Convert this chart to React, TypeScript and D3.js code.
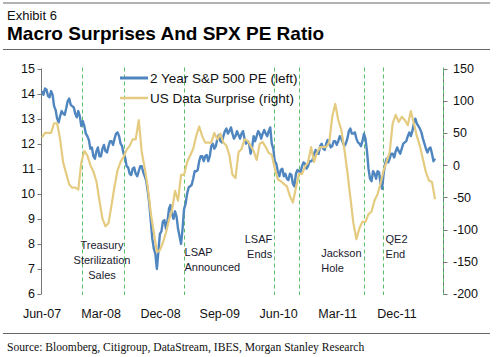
import React from "react";
import * as d3 from "d3";

// ---- Data ----
// PE: weekly observations starting 1 Jun 2007
const START_DATE = "2007-06-01";
const PE_STEP_DAYS = 7;
const SURPRISE_STEP_DAYS = 14;

const peValues: number[] = [
  14.1, 13.95, 14.2, 14.15, 13.9, 13.85, 14.1, 13.95, 13.5, 13.35,
  13.0, 12.85, 13.1, 13.3, 13.2, 13.15, 13.4, 13.7, 13.8, 13.55,
  13.5, 13.45, 13.2, 13.05, 13.3, 13.1, 12.7, 12.9, 12.7, 12.4,
  12.3, 12.15, 11.8, 11.85, 11.5, 11.4, 11.7, 11.85, 11.5, 11.5,
  11.8, 11.95, 11.7, 11.65, 11.9, 12.1, 12.1, 11.95, 12.2, 12.4,
  12.45, 12.3, 12.0, 11.9, 11.6, 11.45, 11.1, 11.05, 10.8, 10.75,
  11.0, 11.05, 10.8, 10.7, 10.9, 11.1, 11.1, 10.85, 10.7, 10.5,
  10.1, 9.6, 8.9, 8.2, 7.8, 7.6, 7.0, 7.7, 8.4, 8.5,
  8.9, 8.95, 8.6, 8.9, 9.4, 9.55, 9.2, 9.0, 9.3, 9.1,
  8.6, 8.3, 8.0, 8.6, 9.4, 9.6, 10.0, 10.25, 10.3, 10.35,
  10.6, 10.9, 10.9, 10.95, 11.3, 11.5, 11.5, 11.3, 11.5, 11.55,
  11.3, 11.5, 11.9, 12.0, 11.8, 11.9, 12.2, 12.35, 12.1, 12.05,
  12.3, 12.5, 12.6, 12.4, 12.5, 12.65, 12.4, 12.2, 12.3, 12.5,
  12.35, 12.2, 12.4, 12.5, 12.2, 12.0, 12.1, 12.0, 11.6, 11.85,
  12.3, 12.1, 12.3, 12.5, 12.4, 12.2, 12.4, 12.55, 12.4, 12.3,
  12.5, 12.65, 12.0, 11.8, 11.3, 11.2, 10.9, 10.7, 10.95, 11.0,
  10.7, 10.8, 10.6, 10.55, 10.8, 10.75, 10.4, 10.3, 10.8, 10.95,
  10.9, 10.85, 11.1, 11.25, 11.2, 11.0, 11.1, 11.3, 11.3, 11.35,
  11.6, 11.75, 11.6, 11.6, 11.9, 12.0, 11.8, 11.75, 12.0, 12.15,
  12.0, 11.85, 11.9, 12.1, 12.1, 11.95, 12.1, 12.3, 12.2, 12.05,
  11.9, 12.0, 12.2, 12.5, 12.6, 12.4, 12.4, 12.45, 12.2, 12.05,
  12.0, 11.9, 12.1, 12.4, 12.2, 11.7, 11.0, 10.6, 10.5, 10.9,
  10.8, 10.6, 10.9, 10.85, 10.4, 10.2, 10.8, 11.2, 11.4, 11.25,
  11.4, 11.6, 11.6, 11.45, 11.7, 11.85, 11.7, 11.6, 11.8, 12.0,
  12.05, 12.1, 12.3, 12.45, 12.3, 12.5, 12.8, 13.0, 12.8, 12.7,
  12.6, 12.45, 12.2, 12.0, 11.8, 11.65, 11.8, 11.85, 11.6, 11.3,
  11.4,
];

// US data surprise: bi-weekly observations starting 1 Jun 2007
const surpriseValues: number[] = [
  43, 50, 50, 50, 65, 65, 40, 4, -13, -30,
  -35, -35, -38, 4, 22, 15, 0, -10, -25, -55,
  -83, -95, -90, -62, -33, -8, 5, 13, 24, 30,
  40, 40, 70, 20, -5, -35, -75, -105, -135, -132,
  -120, -105, -85, -70, -40, -55, -15, -15, 5, 15,
  25, 45, 60, 45, 35, 35, 35, 50, 40, 49,
  35, 30, 15, -15, -20, 20, 25, 40, 38, 30,
  22, 8, 33, 36, 28, 19, 16, -5, -22, -25,
  -29, -33, -48, -58, -35, -13, -14, -2, 4, 28,
  5, 20, 28, 28, 28, 35, 75, 95, 70, 55,
  25, -10, -50, -90, -115, -98, -88, -88, -76, -72,
  -55, -45, -28, -8, 6, 20, 65, 78, 67, 75,
  70, 62, 84, 65, 45, 30, 9, -11, -24, -26,
  -53,
];

const xTickLabels = ["Jun-07", "Mar-08", "Dec-08", "Sep-09", "Jun-10", "Mar-11", "Dec-11"];
const xTickDates = ["2007-06-01", "2008-03-01", "2008-12-01", "2009-09-01", "2010-06-01", "2011-03-01", "2011-12-01"];
const leftTicks = [6, 7, 8, 9, 10, 11, 12, 13, 14, 15];
const rightTicks = [-200, -150, -100, -50, 0, 50, 100, 150];

const eventDates = ["2007-12-03", "2008-06-15", "2009-03-20", "2010-05-11", "2010-09-03", "2011-07-01", "2011-09-27", "2012-07-01"];

const annotations: { lines: string[]; date: string; anchor: string; top: number }[] = [
  { lines: ["Treasury", "Sterilization", "Sales"], date: "2008-03-05", anchor: "middle", top: 249 },
  { lines: ["LSAP", "Announced"], date: "2009-03-22", anchor: "start", top: 256 },
  { lines: ["LSAF", "Ends"], date: "2010-05-02", anchor: "end", top: 243 },
  { lines: ["Jackson", "Hole"], date: "2010-12-15", anchor: "start", top: 256.5 },
  { lines: ["QE2", "End"], date: "2011-10-09", anchor: "start", top: 242.5 },
];

const legendItems = ["2 Year S&P 500 PE (left)", "US Data Surprise (right)"];

const BLUE = "#4f86bf";
const GOLD = "#e4cb80";
const GREEN = "#5cbf6a";

export default function App() {
  const W = 500, H = 357;
  const left = 42, right = 443, top = 68.5, bottom = 294;
  const parse = d3.timeParse("%Y-%m-%d");
  const start = parse(START_DATE)!;
  const x = d3.scaleTime().domain([start, parse("2012-07-01")!]).range([left, right]);
  const yL = d3.scaleLinear().domain([6, 15]).range([bottom, top]);
  const yR = d3.scaleLinear().domain([-200, 150]).range([bottom, top]);

  const peData = peValues.map((v, i) => ({ d: d3.timeDay.offset(start, i * PE_STEP_DAYS), v }));
  const suData = surpriseValues.map((v, i) => ({ d: d3.timeDay.offset(start, i * SURPRISE_STEP_DAYS), v }));

  const peLine = d3.line<{ d: Date; v: number }>().x((p) => x(p.d)).y((p) => yL(p.v));
  const suLine = d3.line<{ d: Date; v: number }>().x((p) => x(p.d)).y((p) => yR(p.v));

  const font = "Arial, 'Liberation Sans', sans-serif";

  return (
    <svg width={W} height={H} style={{ display: "block", position: "absolute", left: 0, top: 0, background: "#fff" }} fontFamily={font}>
      <rect x={0} y={0} width={W} height={H} fill="#fff" />
      {/* header */}
      <line x1={3} x2={490} y1={3} y2={3} stroke="#666" strokeWidth={1.2} />
      <text x={7} y={19.5} fontSize={13} fill="#111">Exhibit 6</text>
      <text x={7} y={40} fontSize={19} fontWeight="bold" fill="#000">Macro Surprises And SPX PE Ratio</text>
      <line x1={3} x2={490} y1={49.5} y2={49.5} stroke="#666" strokeWidth={1.2} />

      {/* event lines */}
      {eventDates.map((ds, i) => {
        const xx = Math.round(x(parse(ds)!)) + 0.5;
        return <line key={"ev" + i} x1={xx} x2={xx} y1={top - 1} y2={bottom + 1} stroke={GREEN} strokeWidth={1} strokeDasharray="4,3" />;
      })}

      {/* left axis */}
      <line x1={left - 0.5} x2={left - 0.5} y1={yL(15)} y2={yL(6)} stroke="#777" strokeWidth={1} />
      {leftTicks.map((t) => (
        <g key={"l" + t}>
          <line x1={left - 4.5} x2={left - 0.5} y1={Math.round(yL(t)) + 0.5} y2={Math.round(yL(t)) + 0.5} stroke="#777" />
          <text x={35} y={yL(t)} dy="0.35em" textAnchor="end" fontSize={12.5} fill="#111">{t}</text>
        </g>
      ))}

      {/* right axis */}
      <line x1={right + 0.5} x2={right + 0.5} y1={yR(150)} y2={yR(-200)} stroke="#777" strokeWidth={1} />
      <line x1={right + 0.5} x2={right + 0.5} y1={yR(150)} y2={yR(-200)} stroke={GREEN} strokeWidth={1} strokeDasharray="4,3" />
      {rightTicks.map((t) => (
        <g key={"r" + t}>
          <line x1={right + 0.5} x2={right + 4.5} y1={Math.round(yR(t)) + 0.5} y2={Math.round(yR(t)) + 0.5} stroke="#777" />
          <text x={453} y={yR(t)} dy="0.35em" textAnchor="start" fontSize={12.5} fill="#111">{t}</text>
        </g>
      ))}

      {/* x labels */}
      {xTickLabels.map((lab, i) => (
        <text key={lab} x={x(parse(xTickDates[i])!)} y={317.5} textAnchor="middle" fontSize={12.5} fill="#111">{lab}</text>
      ))}

      {/* series */}
      <path d={peLine(peData) || ""} fill="none" stroke={BLUE} strokeWidth={2.4} strokeLinejoin="round" />
      <path d={suLine(suData) || ""} fill="none" stroke={GOLD} strokeWidth={2.2} strokeLinejoin="round" />

      {/* annotations */}
      {annotations.map((a, i) => (
        <g key={"a" + i}>
          {a.lines.map((ln, j) => (
            <text key={j} x={x(parse(a.date)!)} y={a.top + j * 15} textAnchor={a.anchor as any} fontSize={11} fill="#1a1a2e">{ln}</text>
          ))}
        </g>
      ))}

      {/* legend */}
      {legendItems.map((lab, i) => (
        <g key={lab}>
          <line x1={120} x2={148} y1={78 + i * 20} y2={78 + i * 20} stroke={i === 0 ? BLUE : GOLD} strokeWidth={i === 0 ? 3 : 2.5} />
          <text x={150} y={78 + i * 20} dy="0.36em" fontSize={13.5} fill="#111">{lab}</text>
        </g>
      ))}

      {/* footer */}
      <line x1={3} x2={490} y1={333.5} y2={333.5} stroke="#666" strokeWidth={1.2} />
      <text x={7} y={351} fontSize={11.6} fontFamily="'Liberation Serif', 'Times New Roman', serif" fill="#111">Source: Bloomberg, Citigroup, DataStream, IBES, Morgan Stanley Research</text>
    </svg>
  );
}
